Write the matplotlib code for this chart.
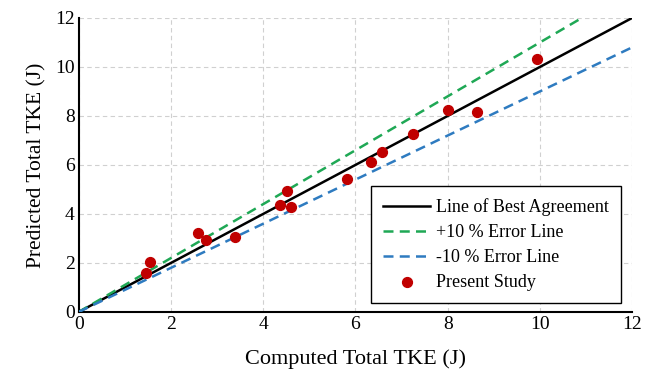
import numpy as np
import matplotlib
matplotlib.use("Agg")
import matplotlib.pyplot as plt

plt.rcParams['font.family'] = ['Liberation Serif', 'DejaVu Serif']

computed_tke = [1.45, 1.54, 2.59, 2.75, 3.39, 4.37, 4.51, 4.61, 5.81, 6.34, 6.58, 7.25, 8.01, 8.63, 9.93]
predicted_tke = [1.59, 2.03, 3.21, 2.94, 3.07, 4.37, 4.94, 4.30, 5.43, 6.10, 6.54, 7.25, 8.24, 8.15, 10.34]

line_x = [0, 12]
ticks = [0, 2, 4, 6, 8, 10, 12]

fig = plt.figure(figsize=(6.51, 3.74), dpi=100)
ax = fig.add_axes([0.121, 0.166, 0.85, 0.786])

ax.plot(line_x, line_x, color='black', lw=1.8, label='Line of Best Agreement', zorder=3)
ax.plot(line_x, [1.1 * v for v in line_x], color='#1fa855', lw=1.8, ls=(0, (4, 2.5)),
        label='+10 % Error Line', zorder=3)
ax.plot(line_x, [0.9 * v for v in line_x], color='#2e7bc0', lw=1.8, ls=(0, (4, 2.5)),
        label='-10 % Error Line', zorder=3)
ax.scatter(computed_tke, predicted_tke, s=50, color='#c00000', label='Present Study', zorder=4)

ax.set_xlim(0, 12)
ax.set_ylim(0, 12)
ax.set_xticks(ticks)
ax.set_yticks(ticks)
ax.tick_params(labelsize=14, length=0, pad=3)
ax.grid(True, color='#d0d0d0', ls=(0, (4, 3)), lw=0.8)
ax.set_axisbelow(True)
for side in ['top', 'right']:
    ax.spines[side].set_visible(False)
for side in ['left', 'bottom']:
    ax.spines[side].set_linewidth(1.5)

ax.set_xlabel('Computed Total TKE (J)', fontsize=16, labelpad=12)
ax.set_ylabel('Predicted Total TKE (J)', fontsize=15.5, labelpad=6)

leg = ax.legend(loc='lower right', bbox_to_anchor=(0.954, 0.19),
                bbox_transform=fig.transFigure, fontsize=13, frameon=True,
                fancybox=False, edgecolor='black', framealpha=1, handlelength=2.6,
                handletextpad=0.35, borderaxespad=0, labelspacing=0.45, borderpad=0.65)
leg.get_frame().set_linewidth(1.0)

fig.savefig('out.png', dpi=100)
